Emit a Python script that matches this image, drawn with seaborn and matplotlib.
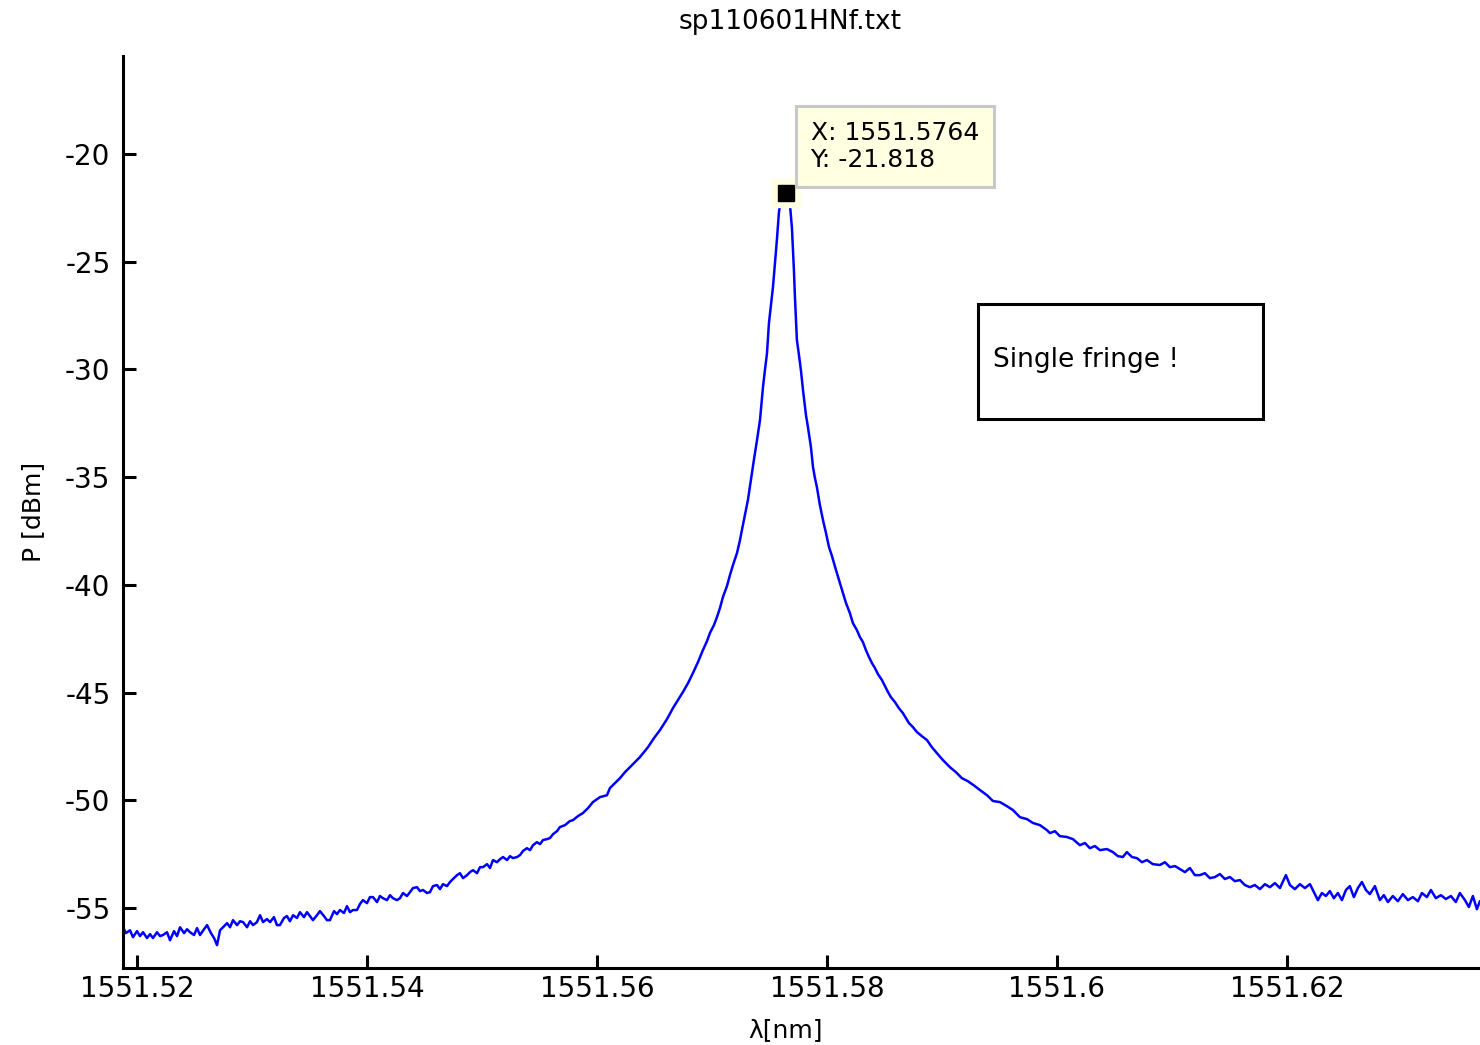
import matplotlib
matplotlib.use("Agg")
import matplotlib.pyplot as plt
import matplotlib.patches as mpatches
import seaborn as sns

sns.set_style("white")
plt.rcParams['font.family'] = ['DejaVu Sans']
plt.rcParams.update({'text.color': 'black', 'axes.labelcolor': 'black',
                     'xtick.color': 'black', 'ytick.color': 'black'})

title = "sp110601HNf.txt"
xlabel = "λ[nm]"
ylabel = "P [dBm]"
note = "Single fringe !"

# spectrum (wavelength in nm, power in dBm)
wavelength_nm = [
    1551.51878, 1551.51904, 1551.51939, 1551.51965, 1551.52000, 1551.52026, 1551.52052, 1551.52087,
    1551.52113, 1551.52139, 1551.52174, 1551.52200, 1551.52226, 1551.52261, 1551.52287, 1551.52322,
    1551.52348, 1551.52374, 1551.52409, 1551.52435, 1551.52461, 1551.52496, 1551.52522, 1551.52548,
    1551.52583, 1551.52609, 1551.52643, 1551.52670, 1551.52696, 1551.52722, 1551.52757, 1551.52783,
    1551.52809, 1551.52835, 1551.52870, 1551.52896, 1551.52922, 1551.52957, 1551.52983, 1551.53009,
    1551.53043, 1551.53070, 1551.53096, 1551.53130, 1551.53157, 1551.53191, 1551.53217, 1551.53243,
    1551.53278, 1551.53304, 1551.53330, 1551.53357, 1551.53391, 1551.53417, 1551.53452, 1551.53478,
    1551.53504, 1551.53530, 1551.53565, 1551.53591, 1551.53626, 1551.53652, 1551.53678, 1551.53713,
    1551.53739, 1551.53765, 1551.53800, 1551.53826, 1551.53852, 1551.53878, 1551.53913, 1551.53939,
    1551.53965, 1551.54000, 1551.54026, 1551.54052, 1551.54087, 1551.54113, 1551.54139, 1551.54174,
    1551.54200, 1551.54226, 1551.54261, 1551.54287, 1551.54313, 1551.54348, 1551.54374, 1551.54400,
    1551.54435, 1551.54461, 1551.54487, 1551.54522, 1551.54548, 1551.54574, 1551.54609, 1551.54635,
    1551.54661, 1551.54696, 1551.54722, 1551.54748, 1551.54783, 1551.54809, 1551.54835, 1551.54870,
    1551.54896, 1551.54922, 1551.54957, 1551.54983, 1551.55009, 1551.55044, 1551.55070, 1551.55096,
    1551.55131, 1551.55157, 1551.55183, 1551.55218, 1551.55244, 1551.55270, 1551.55305, 1551.55331,
    1551.55357, 1551.55391, 1551.55418, 1551.55444, 1551.55478, 1551.55505, 1551.55531, 1551.55565,
    1551.55591, 1551.55618, 1551.55652, 1551.55678, 1551.55722, 1551.55765, 1551.55791, 1551.55835,
    1551.55878, 1551.55922, 1551.55965, 1551.56026, 1551.56087, 1551.56113, 1551.56157, 1551.56200,
    1551.56244, 1551.56305, 1551.56374, 1551.56444, 1551.56496, 1551.56548, 1551.56609, 1551.56661,
    1551.56705, 1551.56748, 1551.56792, 1551.56835, 1551.56879, 1551.56922, 1551.56957, 1551.56983,
    1551.57018, 1551.57044, 1551.57070, 1551.57096, 1551.57131, 1551.57157, 1551.57183, 1551.57218,
    1551.57244, 1551.57261, 1551.57287, 1551.57313, 1551.57339, 1551.57365, 1551.57392, 1551.57418,
    1551.57444, 1551.57461, 1551.57479, 1551.57496, 1551.57513, 1551.57531, 1551.57548, 1551.57565,
    1551.57583, 1551.57600, 1551.57626, 1551.57640, 1551.57679, 1551.57696, 1551.57713, 1551.57722,
    1551.57739, 1551.57757, 1551.57774, 1551.57792, 1551.57818, 1551.57835, 1551.57861, 1551.57879,
    1551.57896, 1551.57913, 1551.57939, 1551.57966, 1551.57992, 1551.58018, 1551.58044, 1551.58079,
    1551.58105, 1551.58139, 1551.58166, 1551.58200, 1551.58226, 1551.58261, 1551.58287, 1551.58313,
    1551.58339, 1551.58366, 1551.58392, 1551.58418, 1551.58444, 1551.58479, 1551.58505, 1551.58531,
    1551.58557, 1551.58592, 1551.58626, 1551.58661, 1551.58687, 1551.58713, 1551.58748, 1551.58783,
    1551.58826, 1551.58870, 1551.58913, 1551.58957, 1551.59009, 1551.59070, 1551.59122, 1551.59174,
    1551.59226, 1551.59287, 1551.59331, 1551.59392, 1551.59444, 1551.59505, 1551.59566, 1551.59618,
    1551.59679, 1551.59740, 1551.59792, 1551.59853, 1551.59913, 1551.59940, 1551.59983, 1551.60026,
    1551.60087, 1551.60140, 1551.60200, 1551.60244, 1551.60287, 1551.60331, 1551.60374, 1551.60435,
    1551.60487, 1551.60531, 1551.60574, 1551.60609, 1551.60653, 1551.60696, 1551.60740, 1551.60783,
    1551.60835, 1551.60896, 1551.60940, 1551.60983, 1551.61027, 1551.61070, 1551.61114, 1551.61157,
    1551.61200, 1551.61244, 1551.61287, 1551.61331, 1551.61374, 1551.61418, 1551.61461, 1551.61505,
    1551.61548, 1551.61592, 1551.61635, 1551.61679, 1551.61722, 1551.61766, 1551.61809, 1551.61853,
    1551.61896, 1551.61940, 1551.61992, 1551.62027, 1551.62070, 1551.62114, 1551.62157, 1551.62201,
    1551.62235, 1551.62270, 1551.62305, 1551.62340, 1551.62374, 1551.62409, 1551.62444, 1551.62479,
    1551.62514, 1551.62548, 1551.62583, 1551.62618, 1551.62653, 1551.62688, 1551.62722, 1551.62766,
    1551.62809, 1551.62844, 1551.62879, 1551.62922, 1551.62966, 1551.63009, 1551.63053, 1551.63096,
    1551.63140, 1551.63175, 1551.63218, 1551.63253, 1551.63296, 1551.63340, 1551.63383, 1551.63427,
    1551.63470, 1551.63505, 1551.63549, 1551.63583, 1551.63618, 1551.63653, 1551.63679,
]
power_dbm = [
    -55.89, -56.16, -56.03, -56.35, -56.07, -56.30, -56.12, -56.39,
    -56.21, -56.39, -56.12, -56.30, -56.25, -56.12, -56.49, -56.07,
    -56.30, -55.89, -56.16, -55.98, -56.12, -56.25, -55.93, -56.25,
    -55.98, -55.79, -56.16, -56.39, -56.72, -56.03, -55.84, -55.70,
    -55.89, -55.56, -55.79, -55.61, -55.65, -55.89, -55.61, -55.79,
    -55.65, -55.33, -55.65, -55.51, -55.65, -55.42, -55.79, -55.79,
    -55.46, -55.37, -55.61, -55.33, -55.46, -55.19, -55.42, -55.19,
    -55.37, -55.56, -55.33, -55.14, -55.37, -55.56, -55.56, -55.14,
    -55.28, -55.09, -55.23, -54.91, -55.19, -55.09, -55.09, -54.81,
    -54.63, -54.77, -54.49, -54.49, -54.72, -54.44, -54.54, -54.63,
    -54.40, -54.54, -54.63, -54.54, -54.30, -54.44, -54.26, -54.07,
    -54.03, -54.21, -54.16, -54.30, -54.26, -53.98, -53.93, -54.12,
    -53.89, -53.98, -53.79, -53.65, -53.47, -53.38, -53.61, -53.47,
    -53.33, -53.24, -53.38, -53.10, -53.10, -52.96, -53.14, -52.77,
    -52.87, -52.73, -52.63, -52.77, -52.59, -52.68, -52.63, -52.54,
    -52.35, -52.22, -52.31, -52.08, -51.94, -52.03, -51.84, -51.80,
    -51.75, -51.57, -51.43, -51.24, -51.15, -50.96, -50.92, -50.73,
    -50.59, -50.36, -50.08, -49.85, -49.76, -49.43, -49.20, -48.97,
    -48.69, -48.36, -47.99, -47.53, -47.11, -46.74, -46.23, -45.72,
    -45.34, -44.97, -44.56, -44.09, -43.58, -43.02, -42.61, -42.23,
    -41.86, -41.49, -41.07, -40.56, -40.05, -39.54, -39.08, -38.52,
    -37.92, -37.45, -36.76, -36.06, -35.13, -34.20, -33.28, -32.35,
    -30.82, -30.03, -29.24, -27.84, -27.01, -26.17, -25.06, -23.99,
    -22.69, -22.14, -21.86, -21.818, -22.37, -23.44, -25.38, -26.64,
    -28.63, -29.33, -30.03, -30.95, -32.12, -32.67, -33.60, -34.53,
    -35.04, -35.46, -36.29, -36.99, -37.59, -38.24, -38.66, -39.31,
    -39.77, -40.38, -40.84, -41.31, -41.77, -42.10, -42.42, -42.65,
    -43.02, -43.35, -43.63, -43.86, -44.14, -44.42, -44.69, -44.97,
    -45.21, -45.44, -45.72, -45.95, -46.18, -46.41, -46.60, -46.83,
    -47.02, -47.20, -47.53, -47.81, -48.13, -48.46, -48.69, -48.97,
    -49.11, -49.34, -49.52, -49.76, -50.03, -50.08, -50.27, -50.45,
    -50.78, -50.87, -51.05, -51.15, -51.38, -51.52, -51.43, -51.66,
    -51.70, -51.80, -52.08, -51.98, -52.22, -52.12, -52.31, -52.26,
    -52.40, -52.59, -52.63, -52.40, -52.63, -52.68, -52.87, -52.77,
    -52.96, -53.00, -52.87, -53.10, -53.05, -53.19, -53.33, -53.14,
    -53.47, -53.47, -53.38, -53.61, -53.56, -53.42, -53.65, -53.56,
    -53.75, -53.70, -53.93, -54.03, -53.93, -54.12, -53.89, -54.03,
    -53.84, -54.07, -53.47, -53.93, -54.12, -53.89, -54.07, -53.89,
    -54.26, -54.63, -54.30, -54.44, -54.21, -54.54, -54.30, -54.63,
    -54.16, -53.98, -54.49, -54.07, -53.79, -54.16, -54.35, -53.98,
    -54.63, -54.40, -54.72, -54.44, -54.68, -54.35, -54.63, -54.49,
    -54.68, -54.30, -54.49, -54.16, -54.54, -54.40, -54.58, -54.44,
    -54.72, -54.30, -54.63, -54.95, -54.44, -55.05, -54.68,
]

peak_x = 1551.5764
peak_y = -21.818

x_ticks = [1551.52, 1551.54, 1551.56, 1551.58, 1551.60, 1551.62]
x_ticklabels = ["1551.52", "1551.54", "1551.56", "1551.58", "1551.6", "1551.62"]
y_ticks = [-55, -50, -45, -40, -35, -30, -25, -20]
y_ticklabels = ["-55", "-50", "-45", "-40", "-35", "-30", "-25", "-20"]

fig = plt.figure(figsize=(14.8, 10.45), dpi=100)
ax = fig.add_axes([0.0831, 0.0737, 0.9169, 0.8727])

sns.lineplot(x=wavelength_nm, y=power_dbm, ax=ax, color="#0000ff",
             linewidth=1.8, estimator=None, sort=False)

ax.set_xlim(1551.51878, 1551.6368)
ax.set_ylim(-57.78, -15.45)
ax.set_xticks(x_ticks)
ax.set_xticklabels(x_ticklabels)
ax.set_yticks(y_ticks)
ax.set_yticklabels(y_ticklabels)

for side in ["top", "right"]:
    ax.spines[side].set_visible(False)
for side in ["left", "bottom"]:
    ax.spines[side].set_linewidth(2.2)
    ax.spines[side].set_color("black")

ax.tick_params(axis="both", direction="in", length=9.5, width=2.2, color="black",
               labelcolor="black", labelsize=20, left=True, bottom=True)
ax.tick_params(axis="x", pad=5)
ax.tick_params(axis="y", pad=9)

ax.set_xlabel(xlabel, fontsize=18, va="center", color="black")
ax.xaxis.set_label_coords(0.4886, -0.068)
ax.set_ylabel(ylabel, fontsize=18, va="center", color="black")
ax.yaxis.set_label_coords(-0.0663, 0.5)

fig.text(0.534, 0.979, title, ha="center", va="center", fontsize=19, color="black")

# data tip on the peak
ax.plot([peak_x], [peak_y], marker="s", ms=20, color="#ffffe1", zorder=4, clip_on=False)
ax.plot([peak_x], [peak_y], marker="s", ms=12, color="black", zorder=5, clip_on=False)
ax.annotate(f"X: {peak_x:.4f}\nY: {peak_y:.3f}", xy=(peak_x, peak_y),
            xytext=(18, 15), textcoords="offset points", ha="left", va="bottom",
            fontsize=18, linespacing=1.2, zorder=6, color="black",
            bbox=dict(boxstyle="square,pad=0.6", fc="#ffffe1", ec="#c8c8c8", lw=2.2))

# text box
ax.add_patch(mpatches.Rectangle((0.630, 0.602), 0.210, 0.126, transform=ax.transAxes,
                                fill=False, ec="black", lw=2.2, zorder=6))
ax.text(0.641, 0.6667, note, transform=ax.transAxes, ha="left", va="center",
        fontsize=19, zorder=7, color="black")

fig.savefig("out.png", dpi=100)
